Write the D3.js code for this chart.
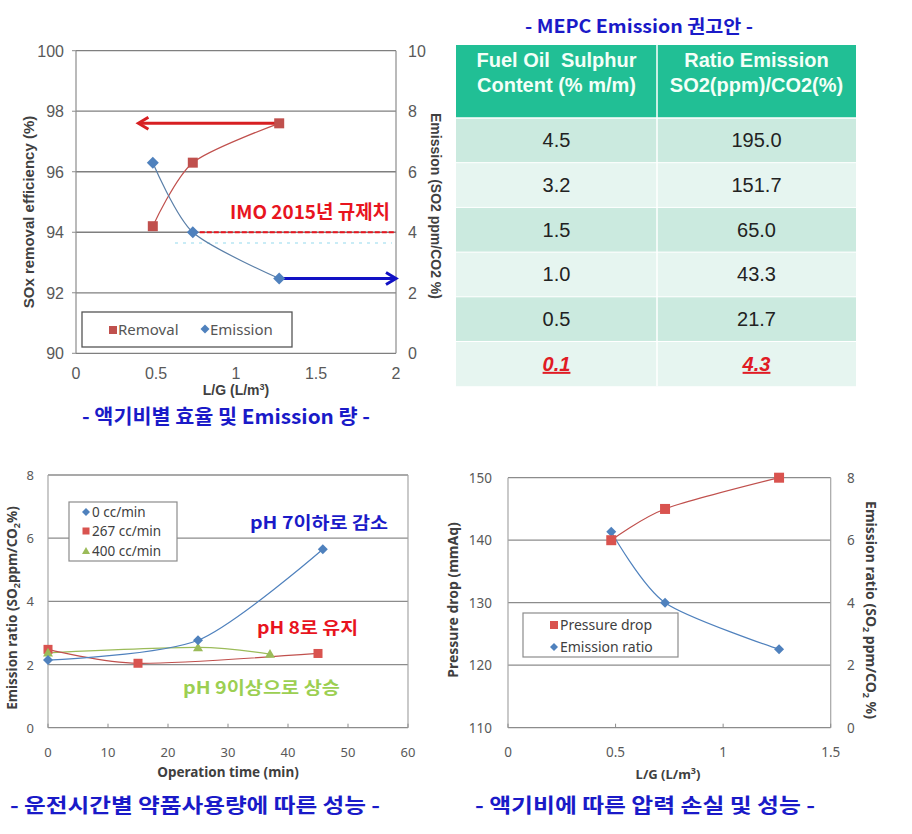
<!DOCTYPE html>
<html><head><meta charset="utf-8">
<script src="https://cdn.jsdelivr.net/npm/d3@7"></script>
<style>body{margin:0;background:#fff}svg{display:block}</style>
</head><body>
<svg id="c" width="912" height="834"></svg>
<script>
// ---------- DATA ----------
// Chart 1: L/G vs removal & emission
const lg1 = [0.48, 0.73, 1.27];
const removal1 = [94.2, 96.3, 97.6];
const emission1 = [6.3, 4.0, 2.47];
const imoLimit = 4.0;
const arrowRemovalTo = 0.39;
const arrowEmissionTo = 2.0;
const xTicks1 = [0, 0.5, 1, 1.5, 2];
const yLeftTicks1 = [90, 92, 94, 96, 98, 100];
const yRightTicks1 = [0, 2, 4, 6, 8, 10];

// Table: MEPC
const tableHeaders = [["Fuel Oil  Sulphur", "Content (% m/m)"], ["Ratio Emission", "SO2(ppm)/CO2(%)"]];
const sulphurContent = ["4.5", "3.2", "1.5", "1.0", "0.5", "0.1"];
const ratioEmission = ["195.0", "151.7", "65.0", "43.3", "21.7", "4.3"];

// Chart 2: operation time
const t0 = [0, 25, 45.8];   const e0 = [2.14, 2.77, 5.65];
const t267 = [0, 15, 45];   const e267 = [2.48, 2.04, 2.35];
const t400 = [0, 25, 37];   const e400 = [2.37, 2.54, 2.33];
const seriesNames2 = ["0 cc/min", "267 cc/min", "400 cc/min"];
const xTicks2 = [0, 10, 20, 30, 40, 50, 60];
const yTicks2 = [0, 2, 4, 6, 8];

// Chart 3: pressure drop
const lg3 = [0.48, 0.73, 1.26];
const pressure3 = [140, 145, 150];
const emission3 = [6.27, 4.0, 2.51];
const xTicks3 = [0, 0.5, 1, 1.5];
const yLeftTicks3 = [110, 120, 130, 140, 150];
const yRightTicks3 = [0, 2, 4, 6, 8];

// ---------- STYLE ----------
const RED = "#c0504d", BLUE = "#4f81bd", GREEN = "#9bbb59";
const CAP = "#1a1ac8";
const svg = d3.select("#c");
svg.append("rect").attr("width", 912).attr("height", 834).attr("fill", "#fff");

function square(g, x, y, s, c) {
  g.append("rect").attr("x", x - s / 2).attr("y", y - s / 2).attr("width", s).attr("height", s).attr("fill", c);
}
function diamondPath(g, x, y, r, c) {
  g.append("path").attr("d", `M${x},${y - r}L${x + r},${y}L${x},${y + r}L${x - r},${y}Z`).attr("fill", c);
}
function triangle(g, x, y, r, c) {
  g.append("path").attr("d", `M${x},${y - r}L${x + r},${y + r * 0.75}L${x - r},${y + r * 0.75}Z`).attr("fill", c);
}
function caption(text, x, y, w, size, color) {
  svg.append("text").attr("x", x).attr("y", y).attr("font-family", "Noto Sans CJK KR").attr("font-weight", "bold")
    .attr("font-size", size).attr("fill", color).attr("textLength", w).attr("lengthAdjust", "spacingAndGlyphs").text(text);
}

// ---------- CHART 1 ----------
{
  const g = svg.append("g");
  const x = d3.scaleLinear([0, 2], [76, 396]);
  const yL = d3.scaleLinear([90, 100], [353.3, 50.7]);
  const yR = d3.scaleLinear([0, 10], [353.3, 50.7]);
  g.selectAll(".gl").data(yLeftTicks1).join("line")
    .attr("x1", x(0)).attr("x2", x(2)).attr("y1", d => yL(d)).attr("y2", d => yL(d))
    .attr("stroke", "#7f7f7f").attr("stroke-width", 1.3);
  g.append("line").attr("x1", x(0)).attr("x2", x(0)).attr("y1", yL(90)).attr("y2", yL(100)).attr("stroke", "#8c8c8c").attr("stroke-width", 1.2);
  g.append("line").attr("x1", x(2)).attr("x2", x(2)).attr("y1", yL(90)).attr("y2", yL(100)).attr("stroke", "#8c8c8c").attr("stroke-width", 1.2);
  const fnt = "Liberation Sans";
  g.selectAll(".xt").data(xTicks1).join("text").attr("x", d => x(d)).attr("y", 379).attr("text-anchor", "middle")
    .attr("font-family", fnt).attr("font-size", 16).attr("fill", "#595959").text(d => d);
  g.selectAll(".yl").data(yLeftTicks1).join("text").attr("x", 64).attr("y", d => yL(d) + 6).attr("text-anchor", "end")
    .attr("font-family", fnt).attr("font-size", 16).attr("fill", "#595959").text(d => d);
  g.selectAll(".yr").data(yRightTicks1).join("text").attr("x", 408).attr("y", d => yR(d) + 6).attr("text-anchor", "start")
    .attr("font-family", fnt).attr("font-size", 16).attr("fill", "#595959").text(d => d);
  g.selectAll(".ytk").data(yLeftTicks1).join("line").attr("x1", x(0) - 4).attr("x2", x(0)).attr("y1", d => yL(d)).attr("y2", d => yL(d)).attr("stroke", "#8c8c8c");
  g.append("text").attr("x", x(1)).attr("y", 395).attr("text-anchor", "middle").attr("font-family", fnt).attr("font-weight", "bold")
    .attr("font-size", 14).attr("fill", "#404040").html('L/G (L/m<tspan dy="-5" font-size="9">3</tspan><tspan dy="5">)</tspan>');
  g.append("text").attr("transform", "translate(34,212) rotate(-90)").attr("text-anchor", "middle").attr("font-family", fnt)
    .attr("font-weight", "bold").attr("font-size", 15).attr("fill", "#404040").text("SOx removal efficiency (%)");
  g.append("text").attr("transform", "translate(431,206) rotate(90)").attr("text-anchor", "middle").attr("font-family", fnt)
    .attr("font-weight", "bold").attr("font-size", 14).attr("fill", "#404040").text("Emission (SO2 ppm/CO2 %)");
  g.append("line").attr("x1", 175).attr("x2", 392).attr("y1", 243).attr("y2", 243).attr("stroke", "#c9ecf6").attr("stroke-width", 2).attr("stroke-dasharray", "3,5");
  g.append("line").attr("x1", x(lg1[1])).attr("x2", x(2)).attr("y1", yR(imoLimit)).attr("y2", yR(imoLimit))
    .attr("stroke", "#e8141e").attr("stroke-width", 2).attr("stroke-dasharray", "5,2");
  const lr = d3.line().x((d, i) => x(lg1[i])).y(d => yL(d)).curve(d3.curveCardinal.tension(0.2));
  g.append("path").attr("d", lr(removal1)).attr("fill", "none").attr("stroke", RED).attr("stroke-width", 1.2);
  const le = d3.line().x((d, i) => x(lg1[i])).y(d => yR(d)).curve(d3.curveCardinal.tension(0.2));
  g.append("path").attr("d", le(emission1)).attr("fill", "none").attr("stroke", "#5a7fa8").attr("stroke-width", 1.2);
  const ay = yL(removal1[2]);
  g.append("line").attr("x1", x(lg1[2])).attr("x2", x(arrowRemovalTo) + 1).attr("y1", ay).attr("y2", ay).attr("stroke", "#d71f22").attr("stroke-width", 3);
  g.append("path").attr("d", `M${x(arrowRemovalTo) + 10},${ay - 6}L${x(arrowRemovalTo)},${ay}L${x(arrowRemovalTo) + 10},${ay + 6}`)
    .attr("fill", "none").attr("stroke", "#d71f22").attr("stroke-width", 3);
  const by = yR(emission1[2]);
  g.append("line").attr("x1", x(lg1[2])).attr("x2", x(arrowEmissionTo)).attr("y1", by).attr("y2", by).attr("stroke", "#1111c4").attr("stroke-width", 3);
  g.append("path").attr("d", `M${x(arrowEmissionTo) - 10},${by - 6}L${x(arrowEmissionTo)},${by}L${x(arrowEmissionTo) - 10},${by + 6}`)
    .attr("fill", "none").attr("stroke", "#1111c4").attr("stroke-width", 3);
  removal1.forEach((v, i) => square(g, x(lg1[i]), yL(v), 10, RED));
  emission1.forEach((v, i) => diamondPath(g, x(lg1[i]), yR(v), 6, BLUE));
  g.append("text").attr("x", 230).attr("y", 219).attr("font-family", "Noto Sans CJK KR").attr("font-weight", "bold")
    .attr("font-size", 19).attr("fill", "#e8141e").attr("textLength", 160).attr("lengthAdjust", "spacingAndGlyphs").text("IMO 2015년  규제치");
  g.append("rect").attr("x", 82).attr("y", 312).attr("width", 210).attr("height", 35).attr("fill", "#fff").attr("stroke", "#555").attr("stroke-width", 1.3);
  square(g, 113, 330, 8, RED);
  g.append("text").attr("x", 118).attr("y", 335).attr("font-family", "Noto Sans").attr("font-size", 15).attr("fill", "#555").text("Removal");
  diamondPath(g, 205, 329, 4.5, BLUE);
  g.append("text").attr("x", 210).attr("y", 335).attr("font-family", "Noto Sans").attr("font-size", 15).attr("fill", "#555").text("Emission");
  caption("- 액기비별 효율 및 Emission 량 -", 82, 424, 288, 20, CAP);
}

// ---------- TABLE ----------
{
  const g = svg.append("g");
  const colX = [456, 657, 856];
  const top = 45, headH = 73, rowH = 44.7;
  caption("- MEPC Emission 권고안 -", 525, 33, 228, 18, CAP);
  g.append("rect").attr("x", colX[0]).attr("y", top).attr("width", colX[2] - colX[0]).attr("height", headH).attr("fill", "#21bf95");
  sulphurContent.forEach((d, i) => {
    g.append("rect").attr("x", colX[0]).attr("y", top + headH + i * rowH).attr("width", colX[2] - colX[0]).attr("height", rowH)
      .attr("fill", i % 2 === 0 ? "#cbeadf" : "#e6f5f0");
  });
  g.append("line").attr("x1", colX[1]).attr("x2", colX[1]).attr("y1", top).attr("y2", top + headH + rowH * 6).attr("stroke", "#fff").attr("stroke-width", 1.5);
  g.append("line").attr("x1", colX[0]).attr("x2", colX[2]).attr("y1", top + headH).attr("y2", top + headH).attr("stroke", "#fff").attr("stroke-width", 1.5);
  for (let i = 1; i < 6; i++) g.append("line").attr("x1", colX[0]).attr("x2", colX[2]).attr("y1", top + headH + i * rowH).attr("y2", top + headH + i * rowH).attr("stroke", "#fff").attr("stroke-width", 1);
  tableHeaders.forEach((lines, c) => {
    const cx = (colX[c] + colX[c + 1]) / 2;
    lines.forEach((t, j) => g.append("text").attr("x", cx).attr("y", 67 + j * 25).attr("text-anchor", "middle")
      .attr("font-family", "Liberation Sans").attr("font-weight", "bold").attr("font-size", 20).attr("fill", "#f4fff8").attr("xml:space", "preserve").text(t));
  });
  [sulphurContent, ratioEmission].forEach((col, c) => {
    const cx = (colX[c] + colX[c + 1]) / 2;
    col.forEach((t, i) => {
      const last = i === col.length - 1;
      g.append("text").attr("x", cx).attr("y", top + headH + i * rowH + rowH / 2 + 7).attr("text-anchor", "middle")
        .attr("font-family", "Liberation Sans").attr("font-size", 20).attr("fill", last ? "#e01b24" : "#222")
        .attr("font-weight", last ? "bold" : "normal").attr("font-style", last ? "italic" : "normal")
        .attr("text-decoration", last ? "underline" : "none").text(t);
    });
  });
}

// ---------- CHART 2 ----------
{
  const g = svg.append("g");
  const x = d3.scaleLinear([0, 60], [48, 408]);
  const y = d3.scaleLinear([0, 8], [727.7, 475]);
  g.selectAll(".gl").data(yTicks2).join("line").attr("x1", x(0)).attr("x2", x(60)).attr("y1", d => y(d)).attr("y2", d => y(d))
    .attr("stroke", "#8c8c8c").attr("stroke-width", 1.3);
  [0, 60].forEach(v => g.append("line").attr("x1", x(v)).attr("x2", x(v)).attr("y1", y(0)).attr("y2", y(8)).attr("stroke", "#a6a6a6").attr("stroke-width", 1.2));
  g.selectAll(".tk").data(xTicks2).join("line").attr("x1", d => x(d)).attr("x2", d => x(d)).attr("y1", y(0)).attr("y2", y(0) - 4).attr("stroke", "#8c8c8c");
  const fnt = "Noto Sans";
  g.selectAll(".xt").data(xTicks2).join("text").attr("x", d => x(d)).attr("y", 757).attr("text-anchor", "middle")
    .attr("font-family", fnt).attr("font-size", 13).attr("fill", "#595959").text(d => d);
  g.selectAll(".yt").data(yTicks2).join("text").attr("x", 34).attr("y", d => y(d) + 5).attr("text-anchor", "end")
    .attr("font-family", fnt).attr("font-size", 13).attr("fill", "#595959").text(d => d);
  g.append("text").attr("x", 228).attr("y", 777).attr("text-anchor", "middle").attr("font-family", fnt).attr("font-weight", "bold")
    .attr("font-size", 13.5).attr("fill", "#404040").text("Operation time (min)");
  g.append("text").attr("transform", "translate(17,608) rotate(-90)").attr("text-anchor", "middle").attr("font-family", fnt)
    .attr("font-weight", "bold").attr("font-size", 13.5).attr("fill", "#404040")
    .html('Emission ratio (SO<tspan font-size="9" dy="3">2</tspan><tspan dy="-3">ppm/CO</tspan><tspan font-size="9" dy="3">2</tspan><tspan dy="-3">%)</tspan>');
  const mk = (tx, ev) => d3.line().x((d, i) => x(tx[i])).y(d => y(d)).curve(d3.curveCardinal.tension(0.2))(ev);
  g.append("path").attr("d", mk(t400, e400)).attr("fill", "none").attr("stroke", GREEN).attr("stroke-width", 1.2);
  g.append("path").attr("d", mk(t267, e267)).attr("fill", "none").attr("stroke", RED).attr("stroke-width", 1.2);
  g.append("path").attr("d", mk(t0, e0)).attr("fill", "none").attr("stroke", BLUE).attr("stroke-width", 1.2);
  e267.forEach((v, i) => square(g, x(t267[i]), y(v), 9, "#d9534f"));
  e400.forEach((v, i) => triangle(g, x(t400[i]), y(v), 5, GREEN));
  e0.forEach((v, i) => diamondPath(g, x(t0[i]), y(v), 5, BLUE));
  g.append("rect").attr("x", 69).attr("y", 502).attr("width", 108).attr("height", 59).attr("fill", "#fff").attr("stroke", "#8c8c8c").attr("stroke-width", 1.2);
  const ly = [512, 531, 551];
  diamondPath(g, 86, ly[0], 4, BLUE); square(g, 86, ly[1], 7, "#d9534f"); triangle(g, 86, ly[2], 4, GREEN);
  seriesNames2.forEach((t, i) => g.append("text").attr("x", 92).attr("y", ly[i] + 5).attr("font-family", fnt).attr("font-size", 13.5).attr("fill", "#404040").text(t));
  const ann = (t, x0, y0, w, c) => g.append("text").attr("x", x0).attr("y", y0).attr("font-family", "Noto Sans CJK KR").attr("font-weight", "bold")
    .attr("font-size", 17).attr("fill", c).attr("textLength", w).attr("lengthAdjust", "spacingAndGlyphs").text(t);
  ann("pH 7이하로 감소", 250, 529, 138, "#1a1ac8");
  ann("pH 8로 유지", 257, 634, 101, "#e8141e");
  ann("pH 9이상으로 상승", 183, 694, 157, "#9ccf52");
  caption("- 운전시간별 약품사용량에 따른 성능 -", 10, 813, 370, 20, CAP);
}

// ---------- CHART 3 ----------
{
  const g = svg.append("g");
  const x = d3.scaleLinear([0, 1.5], [508, 830.7]);
  const yL = d3.scaleLinear([110, 150], [727.7, 477.7]);
  const yR = d3.scaleLinear([0, 8], [727.7, 477.7]);
  g.selectAll(".gl").data(yLeftTicks3).join("line").attr("x1", x(0)).attr("x2", x(1.5)).attr("y1", d => yL(d)).attr("y2", d => yL(d))
    .attr("stroke", "#8c8c8c").attr("stroke-width", 1.3);
  [0, 1.5].forEach(v => g.append("line").attr("x1", x(v)).attr("x2", x(v)).attr("y1", yL(110)).attr("y2", yL(150)).attr("stroke", "#a6a6a6").attr("stroke-width", 1.2));
  g.selectAll(".tk").data(xTicks3).join("line").attr("x1", d => x(d)).attr("x2", d => x(d)).attr("y1", yL(110)).attr("y2", yL(110) - 4).attr("stroke", "#8c8c8c");
  const fnt = "Noto Sans";
  g.selectAll(".xt").data(xTicks3).join("text").attr("x", d => x(d)).attr("y", 757).attr("text-anchor", "middle")
    .attr("font-family", fnt).attr("font-size", 13.5).attr("fill", "#595959").text(d => d);
  g.selectAll(".yl").data(yLeftTicks3).join("text").attr("x", 492).attr("y", d => yL(d) + 5).attr("text-anchor", "end")
    .attr("font-family", fnt).attr("font-size", 13.5).attr("fill", "#595959").text(d => d);
  g.selectAll(".yr").data(yRightTicks3).join("text").attr("x", 847).attr("y", d => yR(d) + 5).attr("text-anchor", "start")
    .attr("font-family", fnt).attr("font-size", 13.5).attr("fill", "#595959").text(d => d);
  g.append("text").attr("x", 668).attr("y", 779).attr("text-anchor", "middle").attr("font-family", fnt).attr("font-weight", "bold")
    .attr("font-size", 13).attr("fill", "#404040").html('L/G (L/m<tspan dy="-5" font-size="9">3</tspan><tspan dy="5">)</tspan>');
  g.append("text").attr("transform", "translate(458,600) rotate(-90)").attr("text-anchor", "middle").attr("font-family", fnt)
    .attr("font-weight", "bold").attr("font-size", 14).attr("fill", "#404040").text("Pressure drop  (mmAq)");
  g.append("text").attr("transform", "translate(866,610) rotate(90)").attr("text-anchor", "middle").attr("font-family", fnt)
    .attr("font-weight", "bold").attr("font-size", 14).attr("fill", "#404040")
    .html('Emission ratio (SO<tspan font-size="9" dy="3">2</tspan><tspan dy="-3"> ppm/CO</tspan><tspan font-size="9" dy="3">2</tspan><tspan dy="-3"> %)</tspan>');
  const lp = d3.line().x((d, i) => x(lg3[i])).y(d => yL(d)).curve(d3.curveCardinal.tension(0.2));
  g.append("path").attr("d", lp(pressure3)).attr("fill", "none").attr("stroke", RED).attr("stroke-width", 1.2);
  const le = d3.line().x((d, i) => x(lg3[i])).y(d => yR(d)).curve(d3.curveCardinal.tension(0.2));
  g.append("path").attr("d", le(emission3)).attr("fill", "none").attr("stroke", BLUE).attr("stroke-width", 1.2);
  emission3.forEach((v, i) => diamondPath(g, x(lg3[i]), yR(v), 5, BLUE));
  pressure3.forEach((v, i) => square(g, x(lg3[i]), yL(v), 10, "#d9534f"));
  g.append("rect").attr("x", 523).attr("y", 613).attr("width", 155).attr("height", 44).attr("fill", "#fff").attr("stroke", "#8c8c8c").attr("stroke-width", 1.2);
  square(g, 554, 625, 8, "#d9534f");
  diamondPath(g, 554, 647, 4, BLUE);
  g.append("text").attr("x", 560).attr("y", 630).attr("font-family", fnt).attr("font-size", 14).attr("fill", "#404040").text("Pressure drop");
  g.append("text").attr("x", 560).attr("y", 652).attr("font-family", fnt).attr("font-size", 14).attr("fill", "#404040").text("Emission ratio");
  caption("- 액기비에 따른 압력 손실 및 성능 -", 475, 813, 340, 20, CAP);
}
</script>
</body></html>
